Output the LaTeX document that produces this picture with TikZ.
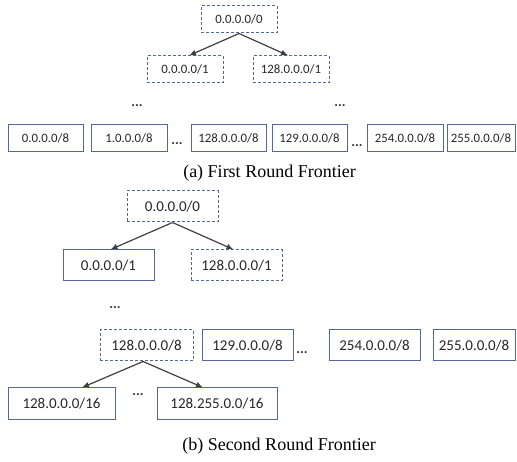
\documentclass[tikz,border=0pt]{standalone}
\usepackage{fontspec}
\setmainfont{Liberation Serif}
\newfontfamily\boxfont{Carlito}
\usetikzlibrary{arrows.meta}
\definecolor{boxblue}{RGB}{80,104,155}
\definecolor{arrgray}{RGB}{64,64,64}
\tikzset{
	netbox/.style={draw=boxblue, line width=1pt, inner sep=0pt, text=black!85},
	pendbox/.style={netbox, dash pattern=on 3pt off 2pt},
	smallbox/.style={minimum height=27pt, font=\boxfont\fontsize{12.8}{15}\selectfont},
	bigbox/.style={minimum height=31pt, font=\boxfont\fontsize{15}{18}\selectfont},
	dotsgap/.style={font=\boxfont\bfseries\fontsize{14}{16}\selectfont, text=black!80},
	splitarrow/.style={draw=arrgray, line width=1.2pt, -{Latex[length=7pt,width=6pt]}},
	figcaption/.style={font=\fontsize{18}{21}\selectfont}
}
\begin{document}
\begin{tikzpicture}[x=1pt, y=-1pt]
	\useasboundingbox (0,0) rectangle (517,462);
	% (a) first round
	\node[pendbox, smallbox, minimum width=76pt] (aroot) at (239,19.5) {0.0.0.0/0};
	\node[pendbox, smallbox, minimum width=76pt] (aleft) at (185,69.5) {0.0.0.0/1};
	\node[pendbox, smallbox, minimum width=76pt] (aright) at (291,69.5) {128.0.0.0/1};
	\draw[splitarrow] (aroot.south) -- ([xshift=4pt]aleft.north);
	\draw[splitarrow] (aroot.south) -- ([xshift=-3pt]aright.north);
	\node[dotsgap] (adotl) at (137,106) {...};
	\node[dotsgap] (adotr) at (340,106) {...};
	\node[netbox, smallbox, minimum width=75pt] (a0) at (45.5,138.5) {0.0.0.0/8};
	\node[netbox, smallbox, minimum width=76pt] (a1) at (129,138.5) {1.0.0.0/8};
	\node[dotsgap] (adota) at (177,144) {...};
	\node[netbox, smallbox, minimum width=75pt] (a128) at (228.5,138.5) {128.0.0.0/8};
	\node[netbox, smallbox, minimum width=75pt] (a129) at (309.5,138.5) {129.0.0.0/8};
	\node[dotsgap] (adotb) at (357,146) {...};
	\node[netbox, smallbox, minimum width=76pt] (a254) at (405,138.5) {254.0.0.0/8};
	\node[netbox, smallbox, minimum width=68pt] (a255) at (481,138.5) {255.0.0.0/8};
	\node[figcaption] (capa) at (269.5,173) {(a) First Round Frontier};
	% (b) second round
	\node[pendbox, bigbox, minimum width=91pt] (broot) at (172.5,206.5) {0.0.0.0/0};
	\node[netbox, bigbox, minimum width=91pt] (bleft) at (108.5,265.5) {0.0.0.0/1};
	\node[pendbox, bigbox, minimum width=91pt] (bright) at (236.5,265.5) {128.0.0.0/1};
	\draw[splitarrow] (broot.south) -- ([xshift=2pt]bleft.north);
	\draw[splitarrow] (broot.south) -- ([xshift=-3pt]bright.north);
	\node[dotsgap] (bdot) at (115,308) {...};
	\node[pendbox, bigbox, minimum width=93pt] (b128) at (146.5,345.5) {128.0.0.0/8};
	\node[netbox, bigbox, minimum width=91pt] (b129) at (247.5,345.5) {129.0.0.0/8};
	\node[dotsgap] (bdota) at (302,353) {...};
	\node[netbox, bigbox, minimum width=91pt] (b254) at (374.5,345.5) {254.0.0.0/8};
	\node[netbox, bigbox, minimum width=82pt] (b255) at (474,345.5) {255.0.0.0/8};
	\node[netbox, bigbox, minimum width=107pt] (b16a) at (61.5,403.5) {128.0.0.0/16};
	\node[netbox, bigbox, minimum width=120pt] (b16b) at (217,403.5) {128.255.0.0/16};
	\node[dotsgap] (bdotb) at (138,395) {...};
	\draw[splitarrow] ([xshift=-3.5pt]b128.south) -- ([xshift=20.5pt]b16a.north);
	\draw[splitarrow] ([xshift=-3.5pt]b128.south) -- ([xshift=-14pt]b16b.north);
	\node[figcaption] (capb) at (279,446) {(b) Second Round Frontier};
\end{tikzpicture}
\end{document}
